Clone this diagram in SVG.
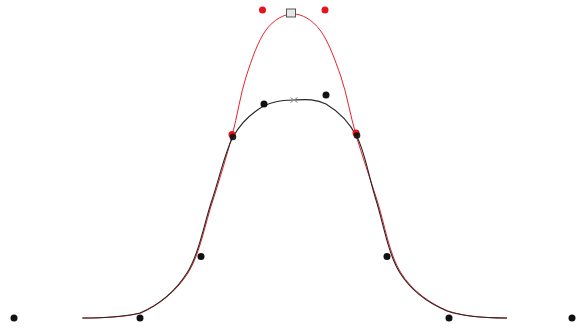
<svg xmlns="http://www.w3.org/2000/svg" width="576" height="329" viewBox="0 0 576 329">
<style>
.bk{fill:#111}
.rd{fill:#e3141c}
.cb{fill:none;stroke:#262626;stroke-width:1.1}
.cr{fill:none;stroke:#e8232a;stroke-width:1}
</style>
<rect width="576" height="329" fill="#fff"/>
<g id="curves">
<path class="cr" d="M83,318 C106,318 124,317 141,313 C158,305.5 176,291.8 188,273 C200,254 205.3,222.7 213,200 C220.3,177.2 226.5,156.5 232,136 C237.5,115.5 240.3,94.7 246,77 C251.7,59.3 258.2,40.5 266,30 C273.8,19.5 284,14 293,14 C302,14 312,19.5 320,30 C328,40.5 335,59.5 341,77 C347,94.5 350,114.5 356,135 C362,155.5 369.7,177.2 377,200 C384.3,222.8 389.2,254.5 401,273 C412.8,291.5 430.3,303.5 448,311 C466,317 486,318 507,318"/>
<path class="cb" d="M82,318 C105,318 123,317 140,313 C157.5,305.5 175,291.8 187,273 C199,254.2 204.3,222.7 212,200 C219.7,177.3 224.7,152.5 233,137 C241.3,121.5 251.8,113.2 262,107 C272.2,100.8 283.3,100.5 294,100 C304.7,99.5 315.5,98.5 326,104 C336.5,110.2 348.7,121 357,137 C365.3,153 368.8,177.3 376,200 C383.2,222.7 388.2,254.5 400,273 C411.8,291.5 429.2,303.5 447,311 C465,317 485,318 507,318"/>
</g>
<g id="p0"><circle class="bk" cx="14" cy="318" r="3.5"/></g>
<g id="p1"><circle class="bk" cx="140" cy="318" r="3.5"/></g>
<g id="p2"><circle class="bk" cx="201" cy="256.5" r="3.5"/></g>
<g id="p3"><circle class="rd" cx="232" cy="134.5" r="3.5"/><circle class="bk" cx="233" cy="137" r="3.3" fill-opacity="0.9"/></g>
<g id="p4"><circle class="bk" cx="264" cy="104" r="3.5"/></g>
<g id="p5"><circle class="bk" cx="326" cy="95" r="3.5"/></g>
<g id="p6"><circle class="rd" cx="356" cy="133" r="3.5"/><circle class="bk" cx="357" cy="135.5" r="3.3" fill-opacity="0.9"/></g>
<g id="p7"><circle class="bk" cx="387" cy="256.5" r="3.5"/></g>
<g id="p8"><circle class="bk" cx="449" cy="318" r="3.5"/></g>
<g id="p9"><circle class="bk" cx="572" cy="318" r="3.5"/></g>
<g id="q4"><circle class="rd" cx="262.5" cy="10" r="3.5"/></g>
<g id="q5"><circle class="rd" cx="325" cy="10" r="3.5"/></g>
<g id="peak-red"><rect x="286.5" y="9" width="9" height="8" fill="#e6e6e6" stroke="#555" stroke-width="1"/></g>
<g id="peak-black"><path d="M290.5,97.5 L297.5,102.5 M290.5,102.5 L297.5,97.5" stroke="#888" stroke-width="1" fill="none"/></g>
</svg>
